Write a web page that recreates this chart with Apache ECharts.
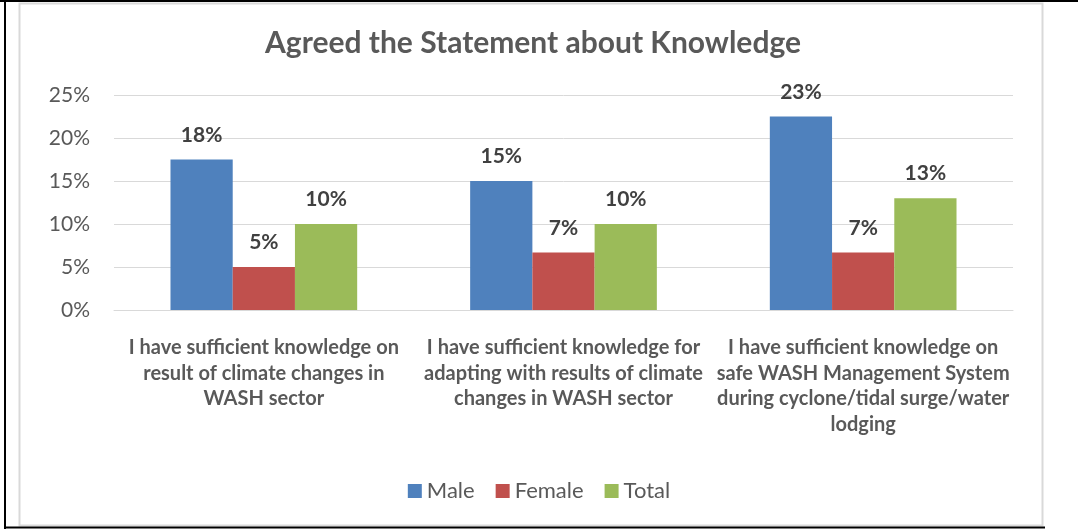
<!DOCTYPE html>
<html><head><meta charset="utf-8">
<script src="https://cdn.jsdelivr.net/npm/echarts@6/dist/echarts.min.js"></script>
<style>html,body{margin:0;padding:0;background:#fff;}#c{width:1078px;height:529px;}</style>
</head><body><div id="c"></div>
<script>
const categories = [
  "I have sufficient knowledge on\nresult of climate changes in\nWASH sector",
  "I have sufficient knowledge for\nadapting with results of climate\nchanges in WASH sector",
  "I have sufficient knowledge on\nsafe WASH Management System\nduring cyclone/tidal surge/water\nlodging"
];
const seriesNames = ["Male", "Female", "Total"];
const male = [17.5, 15, 22.5];
const female = [5, 6.7, 6.7];
const total = [10, 10, 13];
const yTicks = [0, 5, 10, 15, 20, 25];

const colors = ["#4F81BD", "#C0504D", "#9BBB59"];
const FONT = "Lato";
const chart = echarts.init(document.getElementById('c'), null, {renderer: 'canvas'});
const mk = (name, data, color) => ({
  name, type: 'bar', data, barGap: '0%', barCategoryGap: '37.7%',
  itemStyle: {color},
  label: {show: true, position: 'top', distance: 14, fontFamily: FONT, fontWeight: 'bold', fontSize: 21, color: '#404040',
    formatter: p => Math.round(p.value) + '%'}
});
chart.setOption({
  animation: false,
  title: {text: "Agreed the Statement about Knowledge", left: 528, top: 23, textAlign: 'center',
    textStyle: {fontFamily: FONT, fontWeight: 'bold', fontSize: 30, color: '#595959'}},
  legend: {bottom: 22, left: 'center', itemWidth: 14, itemHeight: 14, itemGap: 21, icon: 'rect',
    textStyle: {fontFamily: FONT, fontSize: 22, color: '#595959'}},
  grid: {left: 114, right: 65, top: 95, bottom: 219},
  xAxis: {type: 'category', data: categories,
    axisLine: {lineStyle: {color: '#d9d9d9', width: 1}}, axisTick: {show: false},
    axisLabel: {interval: 0, margin: 25, lineHeight: 25.5, fontFamily: FONT, fontWeight: 'bold', fontSize: 20, color: '#595959', align: 'center'}},
  yAxis: {type: 'value', min: yTicks[0], max: yTicks[yTicks.length-1], interval: 5,
    axisLine: {show: false}, axisTick: {show: false},
    splitLine: {lineStyle: {color: '#d9d9d9', width: 1}},
    axisLabel: {formatter: '{value}%', margin: 24, fontFamily: FONT, fontSize: 21, color: '#595959'}},
  series: [mk(seriesNames[0], male, colors[0]), mk(seriesNames[1], female, colors[1]), mk(seriesNames[2], total, colors[2])],
  graphic: [
    {type: 'rect', shape: {x: 19.5, y: 3.5, width: 1023, height: 522}, style: {fill: null, stroke: '#d9d9d9', lineWidth: 2}, silent: true},
    {type: 'line', shape: {x1: 0, y1: 1, x2: 1078, y2: 1}, style: {stroke: '#000', lineWidth: 2}},
    {type: 'line', shape: {x1: 5, y1: 0, x2: 5, y2: 529}, style: {stroke: '#000', lineWidth: 2}},
    {type: 'line', shape: {x1: 4, y1: 527.5, x2: 1045, y2: 527.5}, style: {stroke: '#000', lineWidth: 2}}
  ]
});
</script></body></html>
